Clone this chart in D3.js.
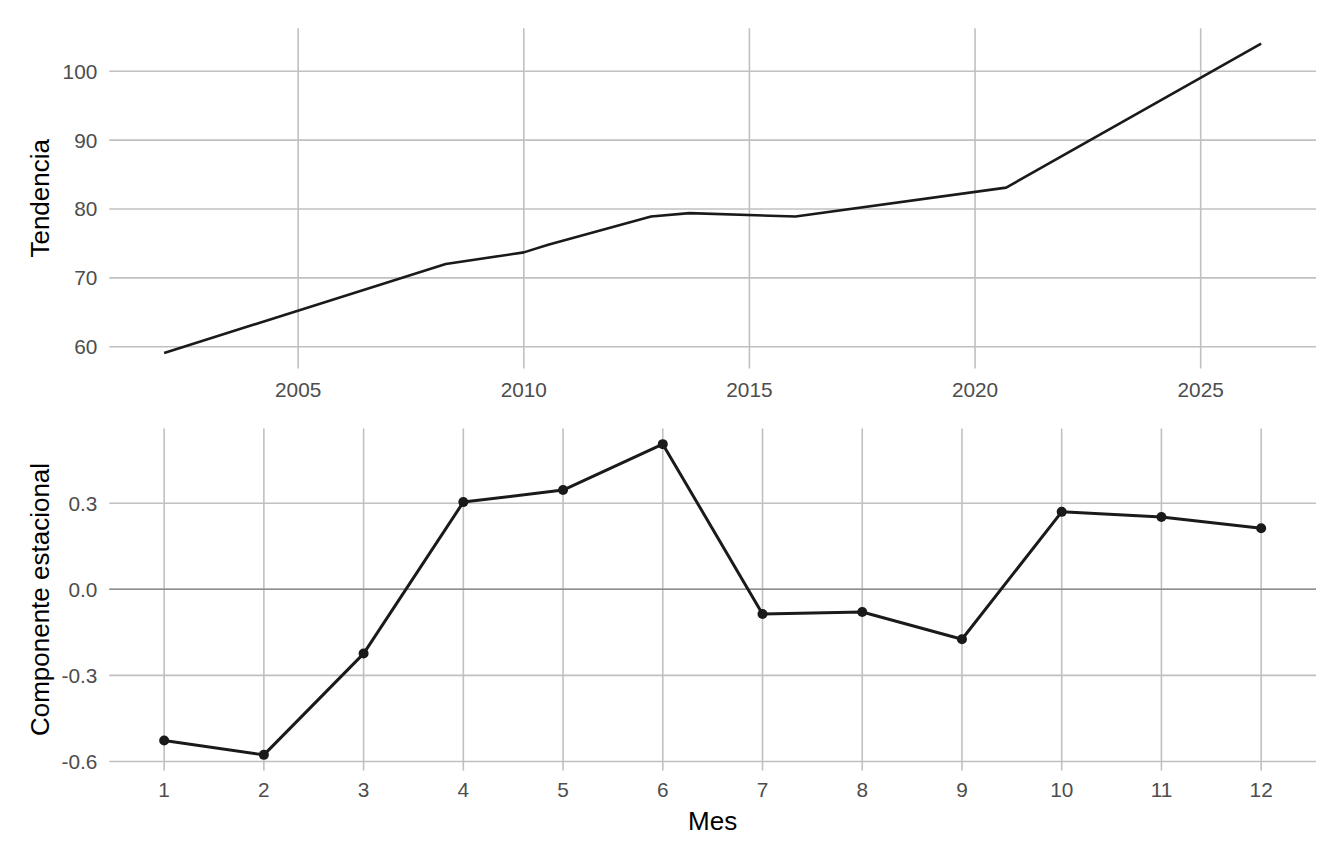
<!DOCTYPE html>
<html>
<head>
<meta charset="utf-8">
<script src="https://cdn.jsdelivr.net/npm/d3@7"></script>
<style>
  html, body { margin: 0; padding: 0; background: #ffffff; }
  svg text { font-family: "Liberation Sans", Arial, Helvetica, sans-serif; }
</style>
</head>
<body>
<svg id="chart" width="1344" height="864"></svg>
<script>
// ---- Data ----
const trendYears  = [2002.03, 2008.27, 2010.0, 2010.54, 2012.82, 2013.67, 2016.02, 2020.69, 2026.34];
const trendValues = [59.1, 72.0, 73.7, 74.8, 78.9, 79.4, 78.9, 83.1, 104.0];

const months = [1, 2, 3, 4, 5, 6, 7, 8, 9, 10, 11, 12];
const seasonalValues = [-0.527, -0.577, -0.224, 0.304, 0.346, 0.506, -0.086, -0.079, -0.174, 0.270, 0.252, 0.213];

const trendXTicks = [2005, 2010, 2015, 2020, 2025];
const trendYTicks = [60, 70, 80, 90, 100];
const seasonYTicks = [-0.6, -0.3, 0.0, 0.3];

const trendYLabel = "Tendencia";
const seasonYLabel = "Componente estacional";
const seasonXLabel = "Mes";

// ---- Layout ----
const svg = d3.select("#chart");
svg.append("rect").attr("width", 1344).attr("height", 864).attr("fill", "#ffffff");

const left = 109.3, right = 1316;
const gridColor = "#c0c0c0", zeroColor = "#8e8e8e", lineColor = "#1a1a1a";
const tickColor = "#4d4d4d";
const tickSize = 20.8, titleSize = 26;

function expand(ext, f = 0.05) {
  const r = ext[1] - ext[0];
  return [ext[0] - r * f, ext[1] + r * f];
}

// ---- Top panel: trend ----
const top1 = 28.2, bot1 = 368.4;
const x1 = d3.scaleLinear().domain(expand(d3.extent(trendYears))).range([left, right]);
const y1 = d3.scaleLinear().domain(expand(d3.extent(trendValues))).range([bot1, top1]);

const g1 = svg.append("g");
// grid
g1.selectAll(".hg").data(trendYTicks).join("line")
  .attr("x1", left).attr("x2", right)
  .attr("y1", d => y1(d)).attr("y2", d => y1(d))
  .attr("stroke", gridColor).attr("stroke-width", 1.6);
g1.selectAll(".vg").data(trendXTicks).join("line")
  .attr("x1", d => x1(d)).attr("x2", d => x1(d))
  .attr("y1", top1).attr("y2", bot1)
  .attr("stroke", gridColor).attr("stroke-width", 1.6);
// axes labels
g1.selectAll(".yl").data(trendYTicks).join("text")
  .attr("x", 97.3).attr("y", d => y1(d)).attr("dy", "0.36em")
  .attr("text-anchor", "end").attr("fill", tickColor).attr("font-size", tickSize)
  .text(d => String(d));
g1.selectAll(".xl").data(trendXTicks).join("text")
  .attr("x", d => x1(d)).attr("y", 397.3)
  .attr("text-anchor", "middle").attr("fill", tickColor).attr("font-size", tickSize)
  .text(d => String(d));
g1.append("text")
  .attr("transform", `translate(49,${(top1 + bot1) / 2}) rotate(-90)`)
  .attr("text-anchor", "middle").attr("fill", "#000").attr("font-size", titleSize)
  .text(trendYLabel);
// line
const trendData = trendYears.map((t, i) => ({ t, v: trendValues[i] }));
g1.append("path").datum(trendData)
  .attr("fill", "none").attr("stroke", lineColor).attr("stroke-width", 2.6)
  .attr("stroke-linejoin", "round")
  .attr("d", d3.line().x(d => x1(d.t)).y(d => y1(d.v)));

// ---- Bottom panel: seasonal ----
const top2 = 428.6, bot2 = 770.4;
const x2 = d3.scaleLinear().domain(expand(d3.extent(months))).range([left, right]);
const y2 = d3.scaleLinear().domain(expand(d3.extent(seasonalValues))).range([bot2, top2]);

const g2 = svg.append("g");
g2.selectAll(".hg").data(seasonYTicks).join("line")
  .attr("x1", left).attr("x2", right)
  .attr("y1", d => y2(d)).attr("y2", d => y2(d))
  .attr("stroke", gridColor).attr("stroke-width", 1.6);
g2.selectAll(".vg").data(months).join("line")
  .attr("x1", d => x2(d)).attr("x2", d => x2(d))
  .attr("y1", top2).attr("y2", bot2)
  .attr("stroke", gridColor).attr("stroke-width", 1.6);
// zero reference line
g2.append("line")
  .attr("x1", left).attr("x2", right)
  .attr("y1", y2(0)).attr("y2", y2(0))
  .attr("stroke", zeroColor).attr("stroke-width", 1.6);

g2.selectAll(".yl").data(seasonYTicks).join("text")
  .attr("x", 97.3).attr("y", d => y2(d)).attr("dy", "0.36em")
  .attr("text-anchor", "end").attr("fill", tickColor).attr("font-size", tickSize)
  .text(d => d.toFixed(1));
g2.selectAll(".xl").data(months).join("text")
  .attr("x", d => x2(d)).attr("y", 797.3)
  .attr("text-anchor", "middle").attr("fill", tickColor).attr("font-size", tickSize)
  .text(d => String(d));
g2.append("text")
  .attr("transform", `translate(49,${(top2 + bot2) / 2}) rotate(-90)`)
  .attr("text-anchor", "middle").attr("fill", "#000").attr("font-size", titleSize)
  .text(seasonYLabel);
g2.append("text")
  .attr("x", (left + right) / 2).attr("y", 830)
  .attr("text-anchor", "middle").attr("fill", "#000").attr("font-size", titleSize)
  .text(seasonXLabel);

const seasonData = months.map((m, i) => ({ m, v: seasonalValues[i] }));
g2.append("path").datum(seasonData)
  .attr("fill", "none").attr("stroke", lineColor).attr("stroke-width", 3)
  .attr("stroke-linejoin", "round")
  .attr("d", d3.line().x(d => x2(d.m)).y(d => y2(d.v)));
g2.selectAll(".pt").data(seasonData).join("circle")
  .attr("cx", d => x2(d.m)).attr("cy", d => y2(d.v)).attr("r", 5)
  .attr("fill", lineColor);
</script>
</body>
</html>
